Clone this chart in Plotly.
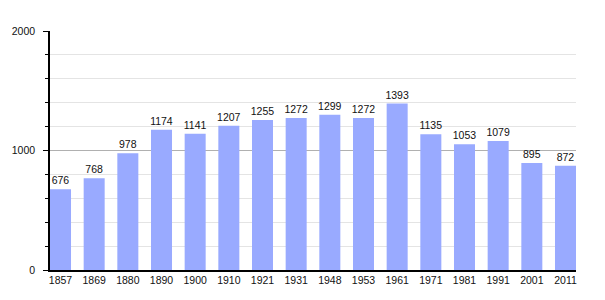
import plotly.graph_objects as go

years = ["1857", "1869", "1880", "1890", "1900", "1910", "1921", "1931", "1948", "1953",
         "1961", "1971", "1981", "1991", "2001", "2011"]
population = [676, 768, 978, 1174, 1141, 1207, 1255, 1272, 1299, 1272,
              1393, 1135, 1053, 1079, 895, 872]
y_ticks = [0, 1000, 2000]

w = 0.624
fig = go.Figure(go.Bar(
    x=list(range(len(years))), y=population, width=w,
    marker=dict(color="#99aaff", line=dict(width=0)),
    text=[str(v) for v in population], textposition="outside",
    constraintext="none",
    textfont=dict(family="Liberation Sans, Arial, sans-serif", size=10.5, color="#111"),
    cliponaxis=False,
))

fig.update_layout(
    width=605, height=300,
    margin=dict(l=50, r=29, t=31, b=30),
    plot_bgcolor="white", paper_bgcolor="white",
    showlegend=False,
    font=dict(family="Liberation Sans, Arial, sans-serif", size=10.5, color="#111"),
    xaxis=dict(
        tickmode="array", tickvals=list(range(len(years))), ticktext=years,
        range=[-w / 2, len(years) - 1 + w / 2],
        showgrid=False, showline=True, linecolor="#000", linewidth=1.5,
        ticks="", tickfont=dict(size=10.5), zeroline=False,
    ),
    yaxis=dict(
        range=[0, 2000], tickvals=y_ticks, ticktext=[str(v) for v in y_ticks],
        showgrid=True, gridcolor="#b0b0b0", gridwidth=1,
        showline=True, linecolor="#000", linewidth=1.5,
        ticks="outside", ticklen=5, tickcolor="#000", tickwidth=1,
        ticklabelstandoff=6,
        zeroline=False, tickfont=dict(size=10.5),
        minor=dict(dtick=200, showgrid=True, gridcolor="#e4e4e4", gridwidth=1,
                   ticks="outside", ticklen=3, tickcolor="#000"),
    ),
)

fig.write_html("out.html")
